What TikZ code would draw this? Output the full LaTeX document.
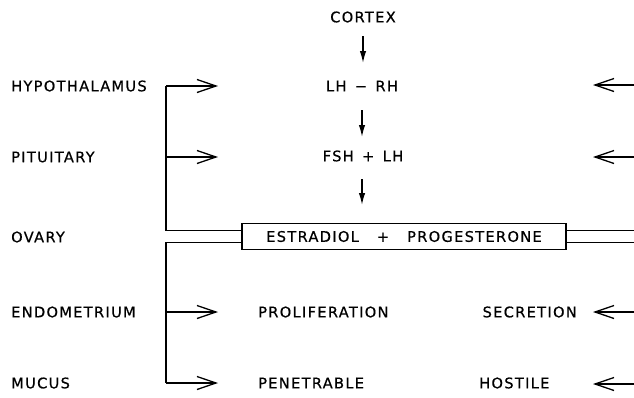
\documentclass[tikz,border=0pt]{standalone}
\usepackage{fontspec}
\setmainfont{DejaVu Sans}[LetterSpace=9, FakeBold=0.6]
\usetikzlibrary{arrows.meta}

\tikzset{
  lbl/.style={inner sep=0pt, font=\fontsize{14.6}{17}\selectfont},
  barb/.style={line width=1.3pt, -{Straight Barb[length=19pt,width=13pt]}},
  down/.style={line width=1.5pt, -{Latex[length=12pt,width=6.5pt]}},
  brace/.style={line width=1.2pt}
}

\begin{document}
\begin{tikzpicture}[x=1pt,y=-1pt]
        \useasboundingbox (0,0) rectangle (634,397);

        % organ labels
        \node[lbl, anchor=west] (hyp) at (11,86) {HYPOTHALAMUS};
        \node[lbl, anchor=west] (pit) at (11,157) {PITUITARY};
        \node[lbl, anchor=west] (ova) at (11,237) {OVARY};
        \node[lbl, anchor=west] (endo) at (11,312) {ENDOMETRIUM};
        \node[lbl, anchor=west] (muc) at (11,383) {MUCUS};

        % central chain
        \node[lbl] (cortex) at (363,17) {CORTEX};
        \node[lbl] (lhrh) at (362,86) {LH \,−\, RH};
        \node[lbl] (fshlh) at (363,156) {FSH \,+\, LH};
        \node[lbl, draw, line width=1.2pt, minimum width=324pt, minimum height=26pt]
            (est) at (404,236.5) {ESTRADIOL\hspace{18pt}+\hspace{18pt}PROGESTERONE};

        \node[lbl, anchor=west] (prol) at (258,312) {PROLIFERATION};
        \node[lbl, anchor=west] (pen) at (258,383) {PENETRABLE};
        \node[lbl, anchor=east] (sec) at (577,312) {SECRETION};
        \node[lbl, anchor=west] (hos) at (479,383) {HOSTILE};

        \coordinate (c1) at (363,36);  \coordinate (c2) at (363,63);
        \coordinate (c3) at (362,110); \coordinate (c4) at (362,137);
        \coordinate (c5) at (362,179); \coordinate (c6) at (362,205);

        \draw[down] (c1) -- (c2);
        \draw[down] (c3) -- (c4);
        \draw[down] (c5) -- (c6);

        % left brackets
        \coordinate (top) at (166,86);
        \coordinate (mid) at (166,157);
        \coordinate (endl) at (166,312);
        \coordinate (bot) at (166,383);
        \coordinate (hypt) at (218,86);
        \coordinate (pitt) at (218,157);
        \coordinate (endt) at (218,312);
        \coordinate (muct) at (218,383);

        \draw[brace] ([yshift=6pt]est.west) -| (top);
        \draw[barb] (top) -- (hypt);
        \draw[barb] (mid) -- (pitt);
        \draw[brace] ([yshift=-6pt]est.west) -| (bot);
        \draw[barb] (bot) -- (muct);
        \draw[barb] (endl) -- (endt);

        % right side
        \coordinate (r1) at (634,230.5);
        \coordinate (r2) at (634,242.5);
        \draw[line width=1pt] ([yshift=6pt]est.east) -- (r1);
        \draw[line width=1pt] ([yshift=-6pt]est.east) -- (r2);

        \coordinate (rh) at (634,85);  \coordinate (rht) at (593,85);
        \coordinate (rp) at (634,157); \coordinate (rpt) at (593,157);
        \coordinate (rs) at (634,312); \coordinate (rst) at (593,312);
        \coordinate (rm) at (634,384); \coordinate (rmt) at (593,384);
        \draw[barb] (rh) -- (rht);
        \draw[barb] (rp) -- (rpt);
        \draw[barb] (rs) -- (rst);
        \draw[barb] (rm) -- (rmt);
    \end{tikzpicture}
\end{document}
